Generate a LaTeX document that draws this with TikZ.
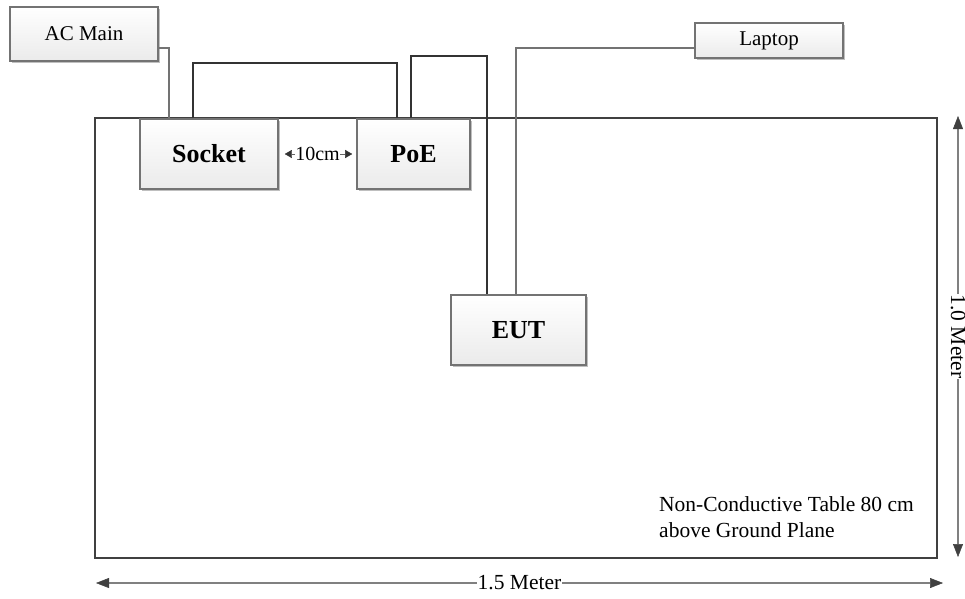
\documentclass[tikz,border=0pt]{standalone}
\usepackage{fontspec}
\setmainfont{Liberation Serif}
\usetikzlibrary{shadows,arrows.meta}
\tikzset{
  dimtip/.tip={Triangle[length=13pt,width=10pt,fill=black!75,color=black!75,line width=0.5pt]},
  smalltip/.tip={Triangle[length=7pt,width=8pt,fill=black!80,color=black!80,line width=0.3pt]}
}
\begin{document}
\begin{tikzpicture}[x=1pt,y=-1pt,
  box/.style={draw=black!55, line width=1.6pt, top color=white, bottom color=black!8,
    drop shadow={shadow xshift=1.5pt, shadow yshift=-1.5pt, opacity=0.25, fill=black},
    inner sep=0pt, font=\fontsize{21}{25}\selectfont},
  bigbox/.style={box, font=\fontsize{26}{30}\selectfont\bfseries},
  wire/.style={draw=black!80, line width=1.6pt},
  lwire/.style={draw=black!55, line width=1.6pt},
  dim/.style={draw=black!50, line width=2.8pt, dimtip-dimtip},
  small/.style={draw=black!60, line width=1pt, smalltip-smalltip},
  lab/.style={font=\fontsize{21.5}{26}\selectfont}
]
\useasboundingbox (0,0) rectangle (965,598);

% table
\node[draw=black!75, line width=2.4pt, minimum width=842pt, minimum height=440pt, inner sep=0pt] (table) at (516,338) {};

% outer devices
\node[box, minimum width=148pt, minimum height=54pt] (acmain) at (84,34) {AC Main};
\node[box, minimum width=148pt, minimum height=35pt] (laptop) at (769,40.5) {Laptop};

% devices on the table
\node[bigbox, minimum width=138pt, minimum height=70pt] (socket) at (209,154) {Socket};
\node[bigbox, minimum width=113pt, minimum height=70pt] (poe) at (413.5,154) {PoE};
\node[bigbox, minimum width=135pt, minimum height=70pt] (eut) at (518.5,330) {EUT};

% connectors
\draw[lwire] ([yshift=-14pt]acmain.east) -| ([xshift=30pt]socket.north west);
\draw[wire] ([xshift=54pt]socket.north west) -- ++(0,-55) -| ([xshift=41pt]poe.north west);
\draw[wire] ([xshift=55pt]poe.north west) -- ++(0,-62) -| ([xshift=37pt]eut.north west);
\draw[lwire] ([yshift=-7.5pt]laptop.west) -| ([xshift=66pt]eut.north west);

% 10 cm
\draw[small, shorten <=6pt, shorten >=4pt] (socket.east) -- node[fill=white, inner sep=0.3pt, font=\fontsize{20}{24}\selectfont] (tencm) {10cm} (poe.west);

% table label
\node[lab, align=left, anchor=north west, inner sep=0pt] (tlabel) at (659,496) {Non-Conductive Table 80 cm\\above Ground Plane};

% dimensions
\coordinate (hl) at (96,583);
\coordinate (hr) at (943,583);
\draw[dim] (hl) -- node[fill=white, inner sep=1pt, lab] (hlab) {1.5 Meter} (hr);
\coordinate (vt) at (958,116);
\coordinate (vb) at (958,557);
\draw[dim] (vt) -- node[fill=white, inner sep=1pt, lab, rotate=-90] (vlab) {1.0 Meter} (vb);
\end{tikzpicture}
\end{document}
